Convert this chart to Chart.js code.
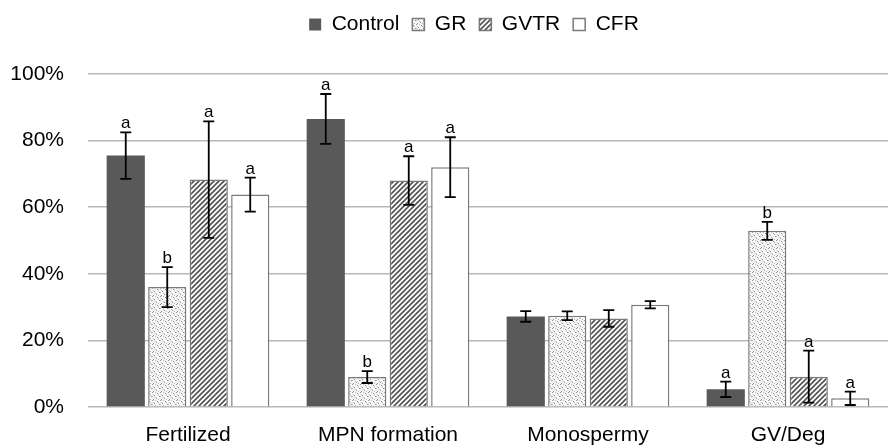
<!DOCTYPE html>
<html>
<head>
<meta charset="utf-8">
<script src="https://cdn.jsdelivr.net/npm/chart.js@4/dist/chart.umd.min.js"></script>
<style>
  html, body { margin: 0; padding: 0; background: #fff; }
  #wrap { width: 894px; height: 446px; }
</style>
</head>
<body>
<div id="wrap"><canvas id="chart"></canvas></div>
<script>
const categories = ["Fertilized", "MPN formation", "Monospermy", "GV/Deg"];
const seriesNames = ["Control", "GR", "GVTR", "CFR"];

// percent values
const controlValues = [75.5, 86.5, 27.2, 5.3];
const grValues = [36.0, 9.0, 27.4, 52.9];
const gvtrValues = [68.3, 68.0, 26.6, 9.1];
const cfrValues = [63.8, 72.0, 30.7, 2.6];

// error bar half-lengths
const controlErrors = [7.0, 7.5, 1.6, 2.3];
const grErrors = [6.0, 1.8, 1.3, 2.7];
const gvtrErrors = [17.5, 7.3, 2.5, 7.8];
const cfrErrors = [5.1, 9.0, 1.1, 2.0];

// significance letters
const controlLetters = ["a", "a", "", "a"];
const grLetters = ["b", "b", "", "b"];
const gvtrLetters = ["a", "a", "", "a"];
const cfrLetters = ["a", "a", "", "a"];

const yTicks = [0, 20, 40, 60, 80, 100];

const FONT = "'Liberation Sans', Arial, sans-serif";

// speckled fill for GR
function dotPattern() {
  const c = document.createElement("canvas");
  c.width = 8; c.height = 8;
  const g = c.getContext("2d");
  g.fillStyle = "#f6f6f6";
  g.fillRect(0, 0, 8, 8);
  const dark = [[0, 0], [5, 1], [2, 3], [7, 4], [4, 6], [1, 7]];
  const light = [[3, 0], [6, 2], [0, 4], [3, 5], [6, 7], [1, 2]];
  g.fillStyle = "#8c8c8c";
  dark.forEach(p => g.fillRect(p[0], p[1], 1, 1));
  g.fillStyle = "#b8b8b8";
  light.forEach(p => g.fillRect(p[0], p[1], 1, 1));
  return g.createPattern(c, "repeat");
}

// diagonal hatch for GVTR
function hatchPattern() {
  const s = 5;
  const c = document.createElement("canvas");
  c.width = s; c.height = s;
  const g = c.getContext("2d");
  g.fillStyle = "#ffffff";
  g.fillRect(0, 0, s, s);
  g.strokeStyle = "#555555";
  g.lineWidth = 1.7;
  g.beginPath();
  g.moveTo(0, s); g.lineTo(s, 0);
  g.moveTo(-1, 1); g.lineTo(1, -1);
  g.moveTo(s - 1, s + 1); g.lineTo(s + 1, s - 1);
  g.stroke();
  return g.createPattern(c, "repeat");
}

const errors = [controlErrors, grErrors, gvtrErrors, cfrErrors];
const letters = [controlLetters, grLetters, gvtrLetters, cfrLetters];

// error bars + letters drawn through the y scale
const errorBarPlugin = {
  id: "errorBars",
  afterDatasetsDraw(chart) {
    const ctx = chart.ctx;
    const y = chart.scales.y;
    ctx.save();
    chart.data.datasets.forEach((ds, i) => {
      const meta = chart.getDatasetMeta(i);
      meta.data.forEach((bar, j) => {
        const v = ds.data[j];
        const e = errors[i][j];
        const top = y.getPixelForValue(v + e);
        const bot = y.getPixelForValue(v - e);
        const x = bar.x;
        ctx.strokeStyle = "#000";
        ctx.lineWidth = 1.8;
        ctx.beginPath();
        ctx.moveTo(x, top); ctx.lineTo(x, bot);
        ctx.moveTo(x - 5.5, top); ctx.lineTo(x + 5.5, top);
        ctx.moveTo(x - 5.5, bot); ctx.lineTo(x + 5.5, bot);
        ctx.stroke();
        const t = letters[i][j];
        if (t) {
          ctx.fillStyle = "#000";
          ctx.font = "17px " + FONT;
          ctx.textAlign = "center";
          ctx.textBaseline = "alphabetic";
          ctx.fillText(t, x, top - 4);
        }
      });
    });
    ctx.restore();
  }
};

// extra room under the legend, and nudge it right
const legendSpace = {
  id: "legendSpace",
  beforeLayout(chart) {
    const lg = chart.legend;
    if (lg && !lg._padded) {
      const fit = lg.fit;
      lg.fit = function () {
        fit.call(this);
        this.height += 29;
      };
      lg._padded = true;
    }
  },
  afterLayout(chart) {
    chart.legend.left += 30;
    chart.legend.right += 30;
  }
};

const ctx = document.getElementById("chart").getContext("2d");
new Chart(ctx, {
  type: "bar",
  data: {
    labels: categories,
    datasets: [
      { label: seriesNames[0], data: controlValues, backgroundColor: "#595959", borderColor: "#595959", borderWidth: 0 },
      { label: seriesNames[1], data: grValues, backgroundColor: dotPattern(), borderColor: "#7a7a7a", borderWidth: 1.5 },
      { label: seriesNames[2], data: gvtrValues, backgroundColor: hatchPattern(), borderColor: "#7a7a7a", borderWidth: 1.5 },
      { label: seriesNames[3], data: cfrValues, backgroundColor: "#ffffff", borderColor: "#7a7a7a", borderWidth: 1.5 },
    ],
  },
  options: {
    responsive: true,
    maintainAspectRatio: false,
    animation: false,
    layout: { padding: { top: 1, right: 6, bottom: 1, left: 0 } },
    datasets: { bar: { categoryPercentage: 0.83, barPercentage: 0.92 } },
    plugins: {
      legend: {
        position: "top",
        labels: {
          color: "#000",
          font: { family: FONT, size: 21 },
          boxWidth: 12,
          boxHeight: 12,
          padding: 13,
        },
      },
      tooltip: { enabled: false },
    },
    scales: {
      x: {
        afterFit(scale) { scale.height = 38; },
        grid: { display: false, drawTicks: false },
        border: { display: false },
        ticks: {
          color: "#000",
          font: { family: FONT, size: 21, lineHeight: 1 },
          padding: 18,
          maxRotation: 0,
        },
      },
      y: {
        min: 0,
        max: 100,
        afterFit(scale) { scale.width = 88; },
        afterBuildTicks(scale) { scale.ticks = yTicks.map(v => ({ value: v })); },
        border: { display: false },
        grid: { color: "#b8b8b8", lineWidth: 1.5, drawTicks: false },
        ticks: {
          color: "#000",
          font: { family: FONT, size: 21 },
          padding: 24,
          callback: v => v + "%",
        },
      },
    },
  },
  plugins: [errorBarPlugin, legendSpace],
});
</script>
</body>
</html>
